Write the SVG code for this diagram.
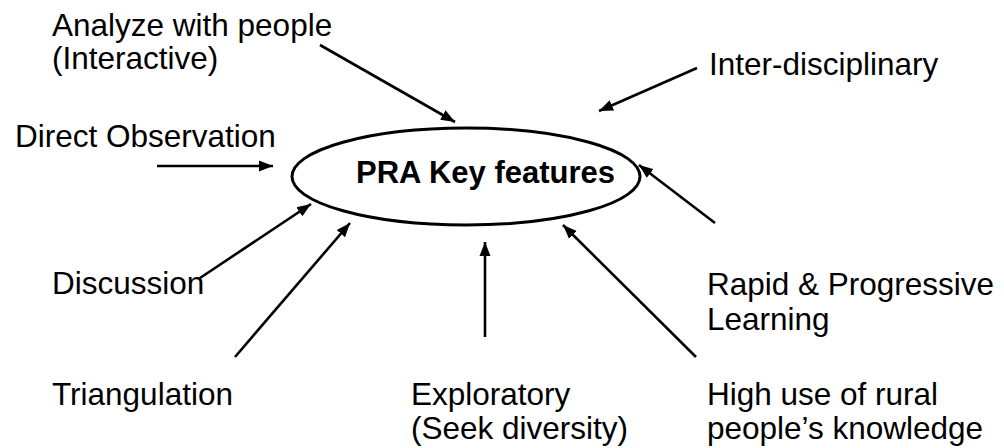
<svg xmlns="http://www.w3.org/2000/svg" width="1004" height="448" viewBox="0 0 1004 448">
  <style>
    .lbl { font-family: "Liberation Sans", Arial, sans-serif; font-size: 31.5px; fill: #000; }
    .title { font-family: "Liberation Sans", Arial, sans-serif; font-size: 31px; font-weight: bold; fill: #000; }
    .conn line { stroke: #000; stroke-width: 2.6; marker-end: url(#head); }
  </style>
  <defs>
    <marker id="head" markerUnits="userSpaceOnUse" markerWidth="16" markerHeight="12" refX="14" refY="6" orient="auto">
      <path d="M0,0.5 L14,6 L0,11.5 Z" fill="#000"/>
    </marker>
  </defs>
  <rect width="1004" height="448" fill="#fff"/>

  <!-- central node -->
  <g id="pra-key-features">
    <ellipse cx="466" cy="176.5" rx="174" ry="48.5" fill="#fff" stroke="#000" stroke-width="3"/>
    <text class="title" x="356" y="183">PRA Key features</text>
  </g>

  <!-- feature labels -->
  <g id="analyze">
    <text class="lbl" x="52" y="36">Analyze with people</text>
    <text class="lbl" x="52" y="69">(Interactive)</text>
  </g>
  <g id="direct-observation">
    <text class="lbl" x="15" y="147">Direct Observation</text>
  </g>
  <g id="inter-disciplinary">
    <text class="lbl" x="709" y="75">Inter-disciplinary</text>
  </g>
  <g id="discussion">
    <text class="lbl" x="52" y="294">Discussion</text>
  </g>
  <g id="triangulation">
    <text class="lbl" x="52" y="405">Triangulation</text>
  </g>
  <g id="exploratory">
    <text class="lbl" x="411" y="405">Exploratory</text>
    <text class="lbl" x="411" y="439">(Seek diversity)</text>
  </g>
  <g id="rapid-learning">
    <text class="lbl" x="707" y="295">Rapid &amp; Progressive</text>
    <text class="lbl" x="707" y="330">Learning</text>
  </g>
  <g id="rural-knowledge">
    <text class="lbl" x="707" y="405">High use of rural</text>
    <text class="lbl" x="707" y="439">people’s knowledge</text>
  </g>

  <!-- connectors -->
  <g id="connectors" class="conn">
    <line x1="320" y1="45" x2="455" y2="122"/>
    <line x1="157" y1="166" x2="273" y2="166"/>
    <line x1="697" y1="68" x2="599" y2="111"/>
    <line x1="715" y1="223" x2="639" y2="165"/>
    <line x1="696" y1="357" x2="563" y2="225"/>
    <line x1="485" y1="337" x2="485" y2="242"/>
    <line x1="200" y1="278" x2="311" y2="204"/>
    <line x1="235" y1="357" x2="350" y2="223"/>
  </g>
</svg>
